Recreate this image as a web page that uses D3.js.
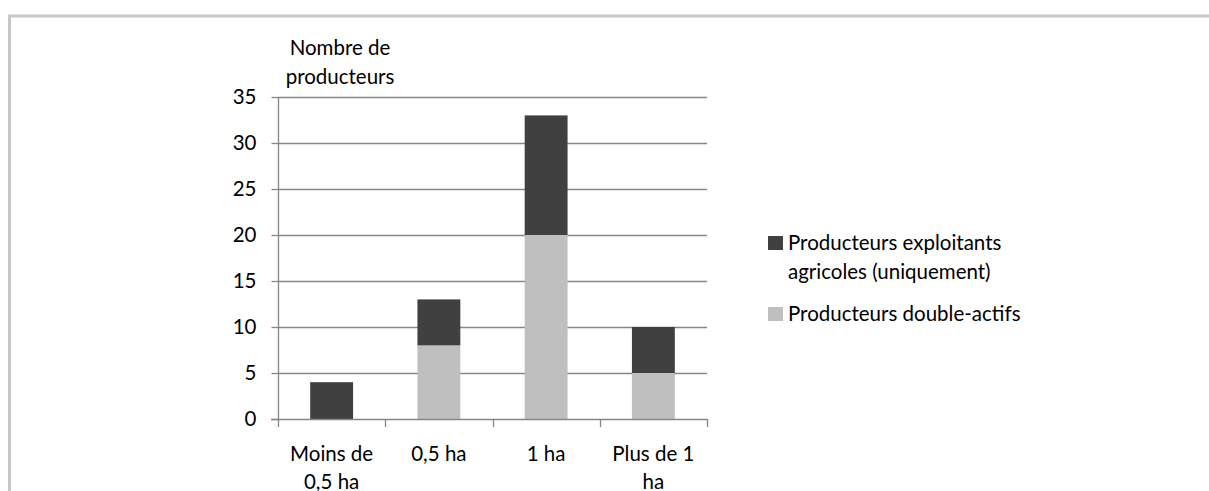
<!DOCTYPE html>
<html>
<head>
<meta charset="utf-8">
<script src="https://cdn.jsdelivr.net/npm/d3@7"></script>
<style>
  html, body { margin: 0; padding: 0; background: #fff; }
  svg { display: block; }
  text { font-family: Lato, "Open Sans", sans-serif; fill: #000; }
</style>
</head>
<body>
<svg id="chart" width="1209" height="491"></svg>
<script>
// Farm size classes and producer counts per class
const categories = [["Moins de", "0,5 ha"], ["0,5 ha"], ["1 ha"], ["Plus de 1", "ha"]];
const doubleActifs = [0, 8, 20, 5];
const exploitants = [4, 5, 13, 5];
const yTicks = [0, 5, 10, 15, 20, 25, 30, 35];
const seriesNames = ["Producteurs exploitants agricoles (uniquement)", "Producteurs double-actifs"];
const seriesColors = ["#404040", "#bfbfbf"];

const FS = "20.5px";
const svg = d3.select("#chart");

// Outer frame
svg.append("path")
  .attr("d", "M9.5,491 L9.5,16 L1209,16")
  .attr("fill", "none")
  .attr("stroke", "#c8c8c8")
  .attr("stroke-width", 3);

const m = { left: 278, right: 707, top: 97, bottom: 419 };
const keys = categories.map(c => c.join(" "));

const x = d3.scaleBand().domain(keys).range([m.left, m.right]).paddingInner(0.6).paddingOuter(0.3);
const xOuter = d3.scaleBand().domain(keys).range([m.left, m.right]);
const y = d3.scaleLinear().domain([0, 35]).range([m.bottom, m.top]);

// Horizontal gridlines
svg.append("g").selectAll("line").data(yTicks.filter(v => v > 0)).join("line")
  .attr("x1", m.left).attr("x2", m.right)
  .attr("y1", d => Math.round(y(d)) + 0.5).attr("y2", d => Math.round(y(d)) + 0.5)
  .attr("stroke", "#868686").attr("stroke-width", 1.3);

// Stacked bars
const rows = keys.map((k, i) => ({ key: k, double: doubleActifs[i], expl: exploitants[i] }));
const stack = d3.stack().keys(["double", "expl"])(rows);
const colorFor = { double: seriesColors[1], expl: seriesColors[0] };

svg.append("g").selectAll("g").data(stack).join("g")
  .attr("fill", s => colorFor[s.key])
  .selectAll("rect").data(s => s).join("rect")
  .attr("x", d => x(d.data.key))
  .attr("width", x.bandwidth())
  .attr("y", d => y(d[1]))
  .attr("height", d => y(d[0]) - y(d[1]));

// Y axis
const yAxis = svg.append("g")
  .attr("transform", `translate(${m.left + 0.5},0)`)
  .call(d3.axisLeft(y).tickValues(yTicks).tickSize(7).tickPadding(15));
yAxis.select(".domain").attr("stroke", "#868686").attr("stroke-width", 1.3).attr("d", `M0,${m.top}V${m.bottom}`);
yAxis.selectAll(".tick line").attr("stroke", "#868686").attr("stroke-width", 1.3);
yAxis.selectAll(".tick text").style("font-size", FS).attr("font-family", "Lato, sans-serif").attr("fill", "#000");

// X axis baseline and category separators
const xAxisG = svg.append("g");
xAxisG.append("line")
  .attr("x1", m.left - 7).attr("x2", m.right)
  .attr("y1", m.bottom + 0.5).attr("y2", m.bottom + 0.5)
  .attr("stroke", "#868686").attr("stroke-width", 1.3);
const sepX = keys.map(k => xOuter(k)).concat([m.right]);
xAxisG.selectAll("line.sep").data(sepX).join("line")
  .attr("class", "sep")
  .attr("x1", d => Math.round(d) + 0.5).attr("x2", d => Math.round(d) + 0.5)
  .attr("y1", m.bottom).attr("y2", m.bottom + 8)
  .attr("stroke", "#868686").attr("stroke-width", 1.3);

// Category labels
categories.forEach((lines, i) => {
  const cx = xOuter(keys[i]) + xOuter.bandwidth() / 2;
  const t = svg.append("text")
    .attr("text-anchor", "middle")
    .style("font-size", FS)
    .attr("x", cx).attr("y", 461);
  lines.forEach((ln, j) => t.append("tspan").attr("x", cx).attr("dy", j === 0 ? 0 : 28).text(ln));
});

// Y axis title
const yt = svg.append("text").attr("text-anchor", "middle").style("font-size", FS)
  .attr("x", 340).attr("y", 55);
yt.append("tspan").attr("x", 340).text("Nombre de");
yt.append("tspan").attr("x", 340).attr("dy", 29).text("producteurs");

// Legend
const legend = svg.append("g");
const legendItems = [
  { lines: ["Producteurs exploitants", "agricoles (uniquement)"], color: seriesColors[0], y: 236 },
  { lines: ["Producteurs double-actifs"], color: seriesColors[1], y: 307 }
];
legendItems.forEach(it => {
  legend.append("rect").attr("x", 768).attr("y", it.y).attr("width", 15).attr("height", 14).attr("fill", it.color);
  const t = legend.append("text").style("font-size", FS).attr("x", 788).attr("y", it.y + 14);
  it.lines.forEach((ln, j) => t.append("tspan").attr("x", 788).attr("dy", j === 0 ? 0 : 29).text(ln));
});
</script>
</body>
</html>
